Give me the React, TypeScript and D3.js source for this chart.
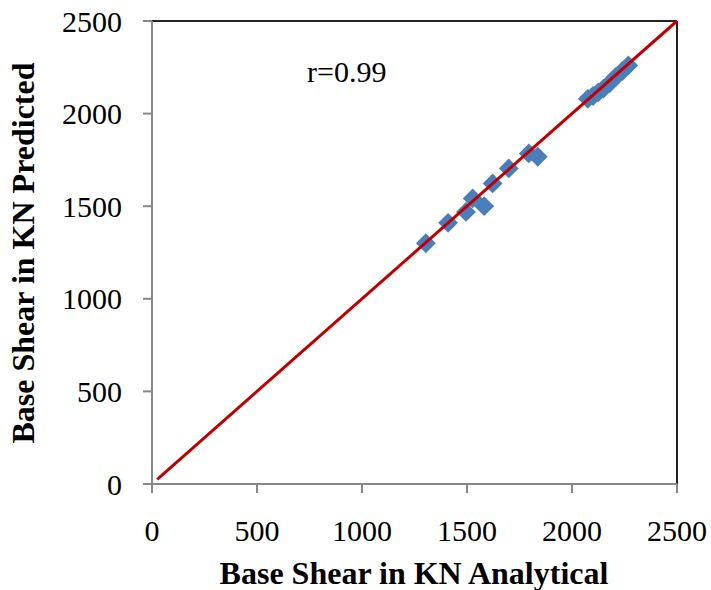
import React from "react"
import * as d3 from "d3"

const width = 711;
const height = 590;
const left = 152;
const right = 677;
const top = 21;
const bottom = 484;

const analytical = [1304, 1410, 1495, 1527, 1582, 1622, 1699, 1794, 1837, 2075, 2100, 2125, 2150, 2180, 2210, 2240, 2268];
const predicted = [1300, 1410, 1469, 1542, 1500, 1623, 1704, 1785, 1767, 2080, 2095, 2115, 2135, 2165, 2200, 2230, 2260];
const ticks = [0, 500, 1000, 1500, 2000, 2500];
const fitLine = [25, 2500];

const x = d3.scaleLinear().domain([0, 2500]).range([left, right]);
const y = d3.scaleLinear().domain([0, 2500]).range([bottom, top]);

const font = "'Liberation Serif', 'Times New Roman', serif";

const App = () => {
  const line = d3.line<number>().x(d => x(d)).y(d => y(d));
  return (
    <svg width={width} height={height} style={{ position: "absolute", left: 0, top: 0 }} fontFamily={font}>
      <rect x={0} y={0} width={width} height={height} fill="white" />
      {/* frame */}
      <line x1={left} x2={right} y1={top} y2={top} stroke="#222" strokeWidth={2} />
      <line x1={right} x2={right} y1={top} y2={bottom} stroke="#222" strokeWidth={2} />
      <line x1={left} x2={right} y1={bottom} y2={bottom} stroke="#888" strokeWidth={2} />
      <line x1={left} x2={left} y1={top} y2={bottom} stroke="#888" strokeWidth={2} />
      {ticks.map(t => (
        <g key={"x" + t}>
          <line x1={x(t)} x2={x(t)} y1={bottom} y2={bottom + 9} stroke="#888" strokeWidth={2} />
          <text x={x(t)} y={bottom + 57} textAnchor="middle" fontSize={30}>{t}</text>
        </g>
      ))}
      {ticks.map(t => (
        <g key={"y" + t}>
          <line x1={left - 9} x2={left} y1={y(t)} y2={y(t)} stroke="#888" strokeWidth={2} />
          <text x={122} y={y(t) + 10.5} textAnchor="end" fontSize={30}>{t}</text>
        </g>
      ))}
      {analytical.map((a, i) => (
        <rect key={i} x={-7} y={-7} width={14} height={14} fill="#4A7EBB"
          transform={`translate(${x(a)},${y(predicted[i])}) rotate(45)`} />
      ))}
      <path d={line(fitLine) || ""} stroke="#C00000" strokeWidth={3} fill="none" />
      <text x={307} y={82} fontSize={30}>r=0.99</text>
      <text x={414} y={584} textAnchor="middle" fontSize={32} fontWeight="bold">Base Shear in KN Analytical</text>
      <text transform={`translate(34,253) rotate(-90)`} textAnchor="middle" fontSize={32} fontWeight="bold">Base Shear in KN Predicted</text>
    </svg>
  )
}

export default App
